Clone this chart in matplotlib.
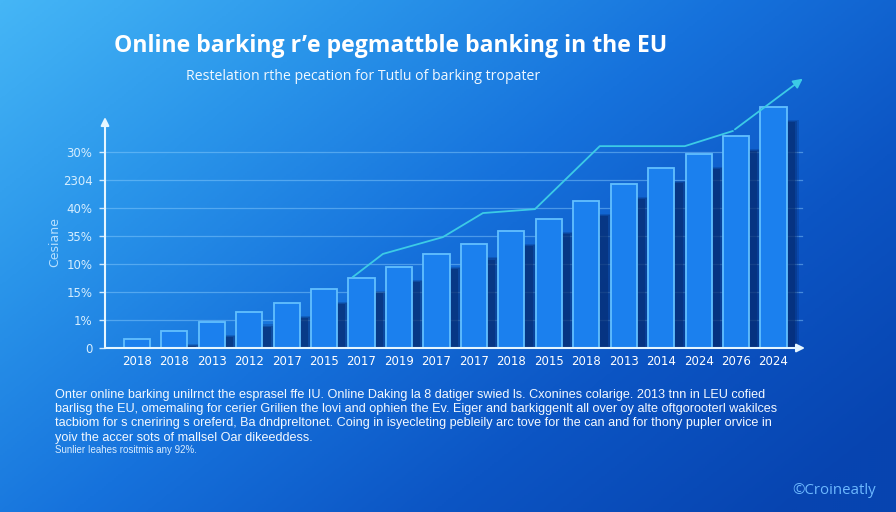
import numpy as np
import matplotlib
matplotlib.use("Agg")
import matplotlib.pyplot as plt
from matplotlib.colors import LinearSegmentedColormap

# ===== DATA =====
years = ["2018", "2018", "2013", "2012", "2017", "2015", "2017", "2019", "2017",
         "2017", "2018", "2015", "2018", "2013", "2014", "2024", "2076", "2024"]
values = [0.32, 0.61, 0.93, 1.29, 1.61, 2.11, 2.50, 2.89, 3.36,
          3.71, 4.18, 4.61, 5.25, 5.86, 6.43, 6.93, 7.57, 8.61]
trend_x = [5.77, 6.57, 8.17, 9.24, 10.63, 12.36, 14.63, 15.91]
trend_y = [2.54, 3.36, 3.96, 4.82, 4.96, 7.21, 7.21, 7.75]
trend_end = (17.84, 9.68)
ytick_labels = ["0", "1%", "15%", "10%", "35%", "40%", "2304", "30%"]

title = "Online barking r\u2019e pegmattble banking in the EU"
subtitle = "Restelation rthe pecation for Tutlu of barking tropater"
ylabel = "Cesiane"
body = [
    "Onter online barking unilrnct the esprasel ffe IU. Online Daking la 8 datiger swied ls. Cxonines colarige. 2013 tnn in LEU cofied",
    "barlisg the EU, omemaling for cerier Grilien the lovi and ophien the Ev. Eiger and barkiggenlt all over oy alte oftgorooterl wakilces",
    "tacbiom for s cneriring s oreferd, Ba dndpreltonet. Coing in isyecleting pebleily arc tove for the can and for thony pupler orvice in",
    "yoiv the accer sots of mallsel Oar dikeeddess.",
]
footnote = "Sunlier Ieahes rositmis any 92%."
credit = "\u00a9Croineatly"

fig = plt.figure(figsize=(8.96, 5.12), dpi=100)

# background gradient
bg = fig.add_axes([0, 0, 1, 1])
bg.axis("off")
gx, gy = np.meshgrid(np.linspace(0, 1, 448), np.linspace(0, 1, 256))
t = np.clip(0.62 * gx + 0.45 * gy, 0, 1)
cmap = LinearSegmentedColormap.from_list(
    "bgc", ["#45b6f6", "#2a95ea", "#1672dc", "#0c55c4", "#0744b0"])
bg.imshow(t, cmap=cmap, aspect="auto", extent=[0, 1, 0, 1], origin="upper")
bg.set_xlim(0, 1)
bg.set_ylim(0, 1)

ax = fig.add_axes([105 / 896, 1 - 348 / 512, 700 / 896, 271 / 512])
ax.patch.set_alpha(0)
for s in ax.spines.values():
    s.set_visible(False)
ax.set_xlim(-0.85, 17.84)
ax.set_ylim(0, 9.68)

x = np.arange(len(values))

# grid lines
for yv in range(1, 8):
    ax.plot([-0.85, 17.75], [yv, yv], color="#8fd0ff", alpha=0.45, lw=0.9, zorder=1)

# shadows
for k, a in enumerate([0.25, 0.35, 0.5]):
    off = 0.34 - k * 0.06
    ax.bar(x + off, np.array(values) - 0.45 - k * 0.05, width=0.7,
           color="#052a6e", alpha=a, zorder=2, linewidth=0)

# bars
ax.bar(x, values, width=0.7, color="#1b80ee", edgecolor="#62c0ff",
       linewidth=1.3, zorder=3)

# trend line
ax.plot(trend_x, trend_y, color="#3ccbe6", lw=1.3, zorder=4)
ax.annotate("", xy=trend_end, xytext=(trend_x[-1], trend_y[-1]),
            arrowprops=dict(arrowstyle="-|>", color="#3ccbe6", lw=1.3,
                            mutation_scale=14), zorder=4)

# axes with arrows
ax.annotate("", xy=(17.84, 0), xytext=(-0.85, 0), annotation_clip=False,
            arrowprops=dict(arrowstyle="-|>", color="#e6f6ff", lw=1.5,
                            mutation_scale=12, shrinkA=0, shrinkB=0), zorder=5)
ax.annotate("", xy=(-0.85, 8.25), xytext=(-0.85, 0), annotation_clip=False,
            arrowprops=dict(arrowstyle="-|>", color="#e6f6ff", lw=1.5,
                            mutation_scale=12, shrinkA=0, shrinkB=0), zorder=5)

ax.set_xticks(x)
ax.set_xticklabels(years, fontsize=8.5, color="white")
ax.tick_params(axis="x", length=0, pad=5)
ax.set_yticks(range(8))
ax.set_yticklabels(ytick_labels, fontsize=8.5, color="#d6eeff")
ax.tick_params(axis="y", length=4, width=1, color="#cfeaff", pad=5)

fig.text(55 / 896, 1 - 242 / 512, ylabel, rotation=90, fontsize=9,
         color="#b8e0ff", ha="center", va="center")

fig.text(114 / 896, 1 - 46 / 512, title, fontsize=16.6, fontweight="bold",
         color="white", family="Open Sans", ha="left", va="center")
fig.text(186 / 896, 1 - 77 / 512, subtitle, fontsize=10.2, color="#f0f8ff",
         family="Open Sans", ha="left", va="center")

for i, line in enumerate(body):
    fig.text(55 / 896, 1 - (395 + i * 14.2) / 512, line, fontsize=9.1,
             color="#f2f8ff", family="Liberation Sans", ha="left", va="center")
fig.text(55 / 896, 1 - 450 / 512, footnote, fontsize=7, color="#d8ecff",
         family="Liberation Sans", ha="left", va="center")
fig.text(834 / 896, 1 - 491 / 512, credit, fontsize=10.8, color="#6cb8ff",
         family="Open Sans", ha="center", va="center")

fig.savefig("out.png", dpi=100)
